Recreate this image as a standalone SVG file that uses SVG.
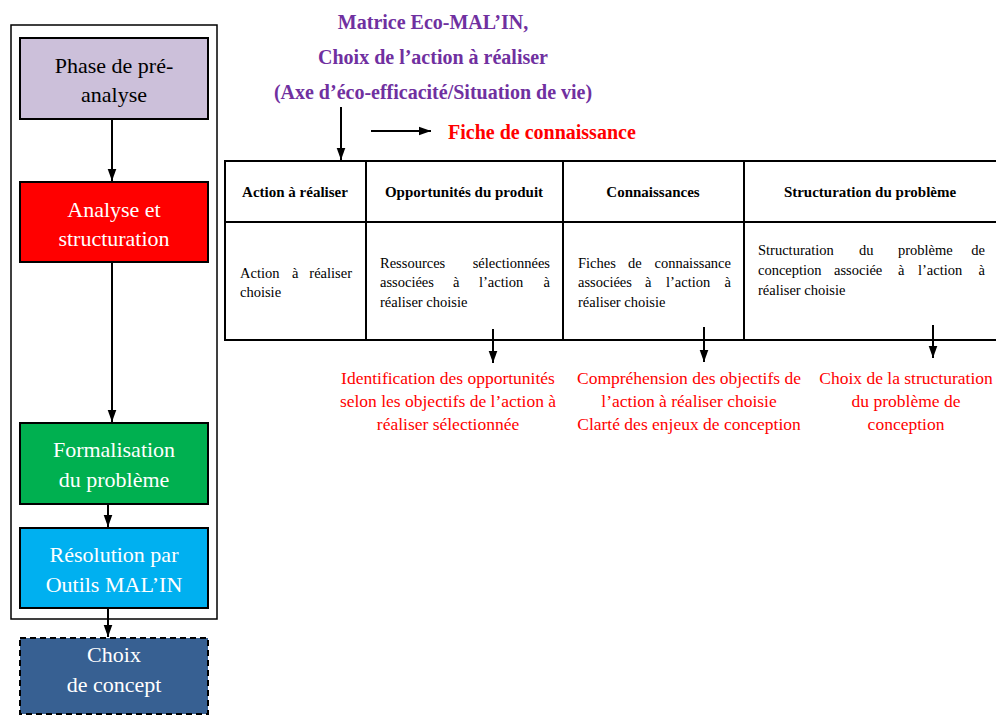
<svg xmlns="http://www.w3.org/2000/svg" width="996" height="716" viewBox="0 0 996 716">
<style>
.box{stroke:#000;stroke-width:2}
.sf{font-family:"Liberation Serif","Tinos","DejaVu Serif","Noto Serif","Times New Roman",serif}
.lt{font-size:22px;text-anchor:middle}
.w{fill:#fff}
.k{fill:#000}
.ttl{font-size:20px;font-weight:bold;fill:#7030A0;text-anchor:middle}
.hd{font-size:15px;font-weight:bold;fill:#000;text-anchor:middle}
.bd{font-size:14.5px;fill:#000}
.e{text-anchor:end}
.rd{font-size:17.5px;fill:#FF0000;text-anchor:middle}
.ln{stroke:#000;stroke-width:2;fill:none}
.ar{stroke:#000;stroke-width:2;fill:none;marker-end:url(#ah)}
</style>
<defs>
<marker id="ah" viewBox="0 0 14 10" markerWidth="12" markerHeight="10" refX="14" refY="5" orient="auto" markerUnits="userSpaceOnUse">
<path d="M0,0 L14,5 L0,10 z" fill="#000"/>
</marker>
</defs>
<rect width="996" height="716" fill="#fff"/>

<g id="frame"><rect x="11" y="25" width="206" height="594" fill="none" stroke="#000" stroke-width="1.5"/></g>

<g id="connectors">
<line class="ar" x1="112" y1="119" x2="112" y2="181"/>
<line class="ar" x1="112" y1="262" x2="112" y2="422"/>
<line class="ar" x1="108" y1="504" x2="108" y2="527"/>
<line class="ar" x1="108" y1="608" x2="108" y2="637"/>
<line class="ar" x1="341" y1="107" x2="341" y2="160"/>
<line class="ar" x1="371" y1="131" x2="431" y2="131"/>
<line class="ar" x1="493" y1="329" x2="493" y2="363"/>
<line class="ar" x1="704" y1="327" x2="704" y2="362"/>
<line class="ar" x1="933" y1="325" x2="933" y2="358"/>
</g>

<g id="n-phase" class="sf"><rect class="box" x="20" y="38" width="188" height="81" fill="#CCC0DA"/>
<text class="lt k" x="114" y="73">Phase de pré-</text><text class="lt k" x="114" y="102">analyse</text></g>
<g id="n-analyse" class="sf"><rect class="box" x="20" y="182" width="188" height="80" fill="#FF0000"/>
<text class="lt w" x="114" y="217">Analyse et</text><text class="lt w" x="114" y="246">structuration</text></g>
<g id="n-formalisation" class="sf"><rect class="box" x="20" y="423" width="188" height="81" fill="#00B050"/>
<text class="lt w" x="114" y="457">Formalisation</text><text class="lt w" x="114" y="487">du problème</text></g>
<g id="n-resolution" class="sf"><rect class="box" x="20" y="528" width="188" height="80" fill="#00B0F0"/>
<text class="lt w" x="114" y="562">Résolution par</text><text class="lt w" x="114" y="592">Outils MAL’IN</text></g>
<g id="n-choix" class="sf"><rect x="20" y="638" width="188" height="76" fill="#376092" stroke="#000" stroke-width="2" stroke-dasharray="6,4"/>
<text class="lt w" x="114" y="662">Choix</text><text class="lt w" x="114" y="692">de concept</text></g>

<g id="n-title" class="sf">
<text class="ttl" x="433" y="29">Matrice Eco-MAL’IN,</text>
<text class="ttl" x="433" y="64">Choix de l’action à réaliser</text>
<text class="ttl" x="433" y="99">(Axe d’éco-efficacité/Situation de vie)</text>
</g>
<g id="n-fiche" class="sf"><text x="448" y="139" font-size="20" font-weight="bold" fill="#FF0000">Fiche de connaissance</text></g>

<g id="n-table" class="sf">
<path class="ln" d="M996,161 H225 V340 H996 M225,222 H996 M366,161 V340 M563,161 V340 M744,161 V340"/>
<text class="hd" x="295" y="197">Action à réaliser</text>
<text class="hd" x="464" y="197">Opportunités du produit</text>
<text class="hd" x="653" y="197">Connaissances</text>
<text class="hd" x="870" y="197">Structuration du problème</text>

<text class="bd" y="278"><tspan x="240">Action</tspan><tspan x="292">à</tspan></text>
<text class="bd e" x="352" y="278">réaliser</text>
<text class="bd" x="240" y="297">choisie</text>

<text class="bd" x="380" y="268">Ressources</text>
<text class="bd e" x="550" y="268">sélectionnées</text>
<text class="bd" y="287"><tspan x="380">associées</tspan><tspan x="453">à</tspan><tspan x="479">l’action</tspan></text>
<text class="bd e" x="550" y="287">à</text>
<text class="bd" x="380" y="307">réaliser choisie</text>

<text class="bd" y="268"><tspan x="578">Fiches</tspan><tspan x="628">de</tspan></text>
<text class="bd e" x="731" y="268">connaissance</text>
<text class="bd" y="287"><tspan x="578">associées</tspan><tspan x="645">à</tspan><tspan x="666">l’action</tspan></text>
<text class="bd e" x="731" y="287">à</text>
<text class="bd" x="578" y="307">réaliser choisie</text>

<text class="bd" y="255"><tspan x="758">Structuration</tspan><tspan x="859">du</tspan><tspan x="898">problème</tspan></text>
<text class="bd e" x="985" y="255">de</text>
<text class="bd" y="275"><tspan x="758">conception</tspan><tspan x="834">associée</tspan><tspan x="898">à</tspan><tspan x="918">l’action</tspan></text>
<text class="bd e" x="985" y="275">à</text>
<text class="bd" x="758" y="295">réaliser choisie</text>
</g>

<g id="n-out1" class="sf">
<text class="rd" x="448" y="384">Identification des opportunités</text>
<text class="rd" x="448" y="407">selon les objectifs de l’action à</text>
<text class="rd" x="448" y="430">réaliser sélectionnée</text>
</g>
<g id="n-out2" class="sf">
<text class="rd" x="689" y="384">Compréhension des objectifs de</text>
<text class="rd" x="689" y="407">l’action à réaliser choisie</text>
<text class="rd" x="689" y="430">Clarté des enjeux de conception</text>
</g>
<g id="n-out3" class="sf">
<text class="rd" x="906" y="384">Choix de la structuration</text>
<text class="rd" x="906" y="407">du problème de</text>
<text class="rd" x="906" y="430">conception</text>
</g>
</svg>
